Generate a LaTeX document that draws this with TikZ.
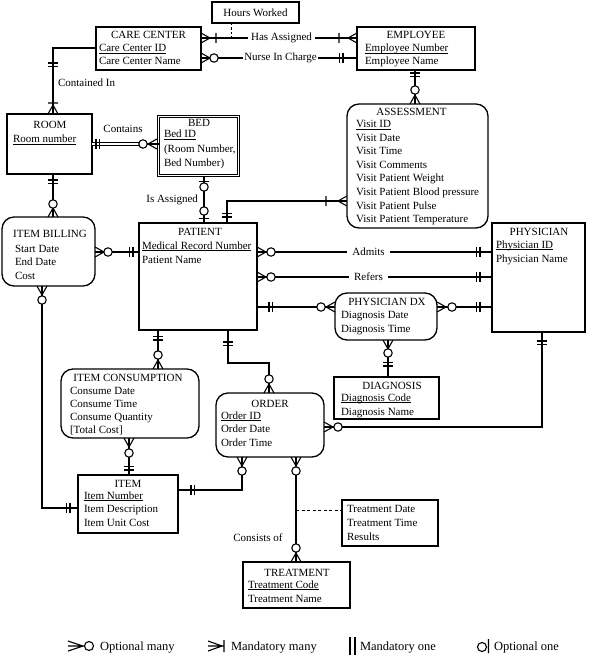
\documentclass[tikz,border=0pt]{standalone}
\usepackage{fontspec}
\setmainfont{Liberation Serif}
\usetikzlibrary{calc}
\tikzset{
  box/.style={draw, line width=1.3pt, inner sep=0pt, outer sep=0pt},
  rbox/.style={box, rounded corners=12pt},
  dbox/.style={draw, line width=0.9pt, double, double distance=1.6pt, inner sep=0pt, outer sep=0pt},
  txt/.style={inner sep=0pt, outer sep=0pt, font=\fontsize{11}{13.5}\selectfont},
  lgd/.style={inner sep=0pt, outer sep=0pt, font=\fontsize{12.5}{14}\selectfont},
  lbl/.style={txt, fill=white, inner xsep=3pt, inner ysep=1.5pt},
  conn/.style={line width=1.1pt},
  pics/omany/.style={code={\draw[line width=1.1pt] (0,-5)--(9,0)--(0,5); \draw[line width=1.1pt,fill=white] (#1,0) circle (4.2);}},
  pics/mmany/.style={code={\draw[line width=1.1pt] (0,-5)--(9,0)--(0,5) (#1,-5)--(#1,5);}},
  pics/mone/.style={code={\draw[line width=1.1pt] (#1,-5)--(#1,5) ({#1+3.5},-5)--({#1+3.5},5);}},
  pics/oone/.style={code={\draw[line width=1.1pt] (4.5,-5)--(4.5,5); \draw[line width=1.1pt,fill=white] (#1,0) circle (4.2);}},
}
\newcommand\ent[6][box]{\node[#1, anchor=north west, minimum width={(#5-#3)*1pt}, minimum height={(#6-#4)*1pt}] (#2) at (#3,#4) {};}
\newcommand\tl[5]{\foreach \myl [count=\myi] in {#5} {\node[txt, anchor=base west] (#1-\myi) at (#2, {#3+#4*(\myi-1)}) {\myl};}}
\newcommand\ul[1]{\setbox0=\hbox{#1}\rlap{\vrule width \wd0 height -1.4pt depth 2.3pt}\box0}
\begin{document}
\begin{tikzpicture}[x=1pt,y=-1pt]
\fill[white] (0,0) rectangle (590,655);
\useasboundingbox (0,0) rectangle (590,655);

% ---------- entities ----------
\ent{hw}{212}{2}{299}{23}
\node[txt] (hw-t) at (255.5,12.5) {Hours Worked};

\ent{cc}{96}{27}{201}{70}
\node[txt, anchor=base] (cc-t) at (148.5,39) {CARE CENTER};
\tl{cc}{99}{52}{13}{\ul{Care Center ID}, Care Center Name}

\ent{emp}{357}{27}{475}{70}
\node[txt, anchor=base] (emp-t) at (416,39) {EMPLOYEE};
\tl{emp}{365}{52}{13}{\ul{Employee Number}, Employee Name}

\ent{room}{7}{114}{92}{174}
\node[txt, anchor=base] (room-t) at (50,129) {ROOM};
\node[txt, anchor=base west] (room-1) at (13,143) {\ul{Room number}};

\ent[dbox]{bed}{158.5}{116.5}{238.5}{175.5}
\node[txt, anchor=base] (bed-t) at (199,127) {BED};
\node[txt, anchor=base west] (bed-1) at (164,138) {\ul{Bed ID}};
\node[txt, anchor=base west] (bed-2) at (164,152.5) {(Room Number,};
\node[txt, anchor=base west] (bed-3) at (164,167) {Bed Number)};

\ent[rbox]{as}{347}{104}{488}{228}
\node[txt, anchor=base] (as-t) at (411.5,116) {ASSESSMENT};
\tl{as}{356}{128}{13.5}{\ul{Visit ID}, Visit Date, Visit Time, Visit Comments, Visit Patient Weight, Visit Patient Blood pressure, Visit Patient Pulse, Visit Patient Temperature}

\ent[rbox]{ib}{2}{217}{95}{286}
\node[txt, anchor=base] (ib-t) at (50,237) {ITEM BILLING};
\tl{ib}{15}{252}{13.7}{Start Date, End Date, Cost}

\ent{pat}{139}{223}{257}{330}
\node[txt, anchor=base] (pat-t) at (200,235) {PATIENT};
\tl{pat}{142}{249}{14}{\ul{Medical Record Number}, Patient Name}

\ent{phy}{492}{223}{585}{332}
\node[txt, anchor=base] (phy-t) at (539,235) {PHYSICIAN};
\tl{phy}{496}{248}{14}{\ul{Physician ID}, Physician Name}

\ent[rbox]{pdx}{335}{293}{437}{340}
\node[txt, anchor=base] (pdx-t) at (387,305) {PHYSICIAN DX};
\tl{pdx}{341}{318}{14}{Diagnosis Date, Diagnosis Time}

\ent{dg}{334}{377}{439}{419}
\node[txt, anchor=base] (dg-t) at (392,389) {DIAGNOSIS};
\tl{dg}{341}{401}{14}{\ul{Diagnosis Code}, Diagnosis Name}

\ent[rbox]{ic}{61}{369}{199}{438}
\node[txt, anchor=base] (ic-t) at (128,381) {ITEM CONSUMPTION};
\tl{ic}{70}{394}{13}{Consume Date, Consume Time, Consume Quantity, [Total Cost]}

\ent[rbox]{ord}{216}{393}{324}{457}
\node[txt, anchor=base] (ord-t) at (270,407) {ORDER};
\tl{ord}{221}{419}{13.5}{\ul{Order ID}, Order Date, Order Time}

\ent{item}{78}{475}{178}{533}
\node[txt, anchor=base] (item-t) at (128,487) {ITEM};
\tl{item}{84}{499}{13.5}{\ul{Item Number}, Item Description, Item Unit Cost}

\ent{tra}{342}{500}{438}{546}
\tl{tra}{347}{512}{14}{Treatment Date, Treatment Time, Results}

\ent{tr}{243}{562}{350}{608}
\node[txt, anchor=base] (tr-t) at (297,576) {TREATMENT};
\tl{tr}{248}{588}{14}{\ul{Treatment Code}, Treatment Name}

% ---------- connectors ----------
% Has Assigned
\draw[conn] (cc.east |- 0,38) -- (emp.west |- 0,38);
\pic at (cc.east |- 0,38) {mmany=15};
\pic[rotate=180] at (emp.west |- 0,38) {mmany=18};
\coordinate (hadot) at (231,38);
\draw[line width=0.9pt, dash pattern=on 2.5pt off 2pt] (hw.south -| hadot) -- (hadot);
% Nurse In Charge
\draw[conn] (cc.east |- 0,58) -- (emp.west |- 0,58);
\pic at (cc.east |- 0,58) {omany=13};
\pic[rotate=180] at (emp.west |- 0,58) {mone=14};
% Employee - Assessment
\draw[conn] (emp.south -| 415,0) -- (as.north -| 415,0);
\pic[rotate=-90] at (emp.south -| 415,0) {mone=3};
\pic[rotate=90] at (as.north -| 415,0) {omany=14};
% Care center - Room
\draw[conn] (cc.west |- 0,48) -| (room.north -| 53,0);
\coordinate (ccbend) at (53,48);
\pic[rotate=-90] at (ccbend) {mone=15};
\pic[rotate=90] at (room.north -| 53,0) {mmany=11};
% Room - Bed (identifying, double line)
\draw[line width=0.9pt, double, double distance=1.6pt] (room.east |- 0,144) -- ($(bed.west |- 0,144)+(-14,0)$);
\draw[conn] ($(bed.west |- 0,144)+(-14,0)$) -- (bed.west |- 0,144);
\pic[rotate=180] at ($(bed.west |- 0,144)+(-1.5,0)$) {omany=14};
\pic at (room.east |- 0,144) {mone=4};
% Room - Item billing
\draw[conn] (room.south -| 53,0) -- (ib.north -| 53,0);
\pic[rotate=-90] at (room.south -| 53,0) {mone=6};
\pic[rotate=90] at (ib.north -| 53,0) {omany=13};
% Bed - Patient
\draw[conn] (bed.south -| 204,0) -- (pat.north -| 204,0);
\pic[rotate=-90] at ($(bed.south -| 204,0)+(0,1.5)$) {oone=10};
\pic[rotate=90] at (pat.north -| 204,0) {oone=12};
% Patient - Assessment
\draw[conn] (pat.north -| 227,0) |- (as.west |- 0,201);
\pic[rotate=90] at (pat.north -| 227,0) {mone=6};
\pic[rotate=180] at (as.west |- 0,201) {mmany=21};
% Item billing - Patient
\draw[conn] (ib.east |- 0,252) -- (pat.west |- 0,252);
\pic at (ib.east |- 0,252) {omany=13};
\pic[rotate=180] at (pat.west |- 0,252) {mone=6};
% Item billing - Item
\draw[conn] (ib.south -| 42,0) |- (item.west |- 0,508);
\pic[rotate=-90] at (ib.south -| 42,0) {omany=14};
\pic[rotate=180] at (item.west |- 0,508) {mone=8};
% Admits
\draw[conn] (pat.east |- 0,252) -- (phy.west |- 0,252);
\pic at (pat.east |- 0,252) {omany=14};
\pic[rotate=180] at (phy.west |- 0,252) {mone=12};
% Refers
\draw[conn] (pat.east |- 0,277) -- (phy.west |- 0,277);
\pic at (pat.east |- 0,277) {omany=14};
\pic[rotate=180] at (phy.west |- 0,277) {mone=12};
% Patient - Physician DX
\draw[conn] (pat.east |- 0,307) -- (pdx.west |- 0,307);
\pic at (pat.east |- 0,307) {mone=12};
\pic[rotate=180] at (pdx.west |- 0,307) {omany=14};
% Physician DX - Physician
\draw[conn] (pdx.east |- 0,307) -- (phy.west |- 0,307);
\pic at (pdx.east |- 0,307) {omany=15};
\pic[rotate=180] at (phy.west |- 0,307) {mone=12};
% Physician DX - Diagnosis
\draw[conn] (pdx.south -| 388,0) -- (dg.north -| 388,0);
\pic[rotate=-90] at (pdx.south -| 388,0) {omany=13};
\pic[rotate=90] at (dg.north -| 388,0) {mone=11};
% Physician - Order
\draw[conn] (phy.south -| 542,0) |- (ord.east |- 0,427);
\pic[rotate=-90] at (phy.south -| 542,0) {mone=9};
\pic at (ord.east |- 0,427) {omany=14};
% Patient - Item consumption
\draw[conn] (pat.south -| 158,0) -- (ic.north -| 158,0);
\pic[rotate=-90] at (pat.south -| 158,0) {mone=6.5};
\pic[rotate=90] at (ic.north -| 158,0) {omany=14};
% Patient - Order
\draw[conn] (pat.south -| 228,0) |- ($(ord.north -| 269,0)+(0,-30)$) -- (ord.north -| 269,0);
\pic[rotate=-90] at (pat.south -| 228,0) {mone=12};
\pic[rotate=90] at (ord.north -| 269,0) {omany=14};
% Item consumption - Item
\draw[conn] (ic.south -| 129,0) -- (item.north -| 129,0);
\pic[rotate=-90] at (ic.south -| 129,0) {omany=15};
\pic[rotate=90] at (item.north -| 129,0) {mone=5};
% Item - Order
\draw[conn] (item.east |- 0,490) -| (ord.south -| 242,0);
\pic at (item.east |- 0,490) {mone=13};
\pic[rotate=-90] at (ord.south -| 242,0) {omany=14};
% Order - Treatment
\draw[conn] (ord.south -| 296,0) -- (tr.north -| 296,0);
\pic[rotate=-90] at (ord.south -| 296,0) {omany=14};
\pic[rotate=90] at (tr.north -| 296,0) {omany=14};
\coordinate (trd) at (296,510);
\draw[line width=0.9pt, dash pattern=on 3pt off 2.5pt] (trd) -- (tra.west |- trd);

% ---------- labels ----------
\node[lbl] (lha) at (281.5,38) {Has Assigned};
\node[lbl, inner xsep=1.5pt] (lnic) at (280.5,58) {Nurse In Charge};
\node[txt, anchor=base west] (lci) at (58,87) {Contained In};
\node[txt, anchor=base] (lco) at (123,133) {Contains};
\node[txt, anchor=base east] (lia) at (198,202) {Is Assigned};
\node[lbl, inner xsep=5pt] (lad) at (368.5,252) {Admits};
\node[lbl, inner xsep=5pt] (lre) at (368.5,277) {Refers};
\node[txt, anchor=base] (lcons) at (258,541) {Consists of};

% ---------- legend ----------
\draw[line width=1.1pt] (68,641)--(83,646)--(68,651) (68,646)--(84,646);
\draw[line width=1.1pt] (89,646) circle (4.5);
\node[lgd, anchor=base west] (lg1) at (100,650) {Optional many};
\draw[line width=1.1pt] (208,641)--(222,646)--(208,651) (208,646)--(224,646) (224,640)--(224,652);
\node[lgd, anchor=base west] (lg2) at (231,650) {Mandatory many};
\draw[line width=1.1pt] (350,637)--(350,657) (355,637)--(355,657);
\node[lgd, anchor=base west] (lg3) at (360,650) {Mandatory one};
\draw[line width=1.1pt] (482,647) circle (4.5) (488.5,639)--(488.5,653);
\node[lgd, anchor=base west] (lg4) at (494,650) {Optional one};
\end{tikzpicture}
\end{document}
